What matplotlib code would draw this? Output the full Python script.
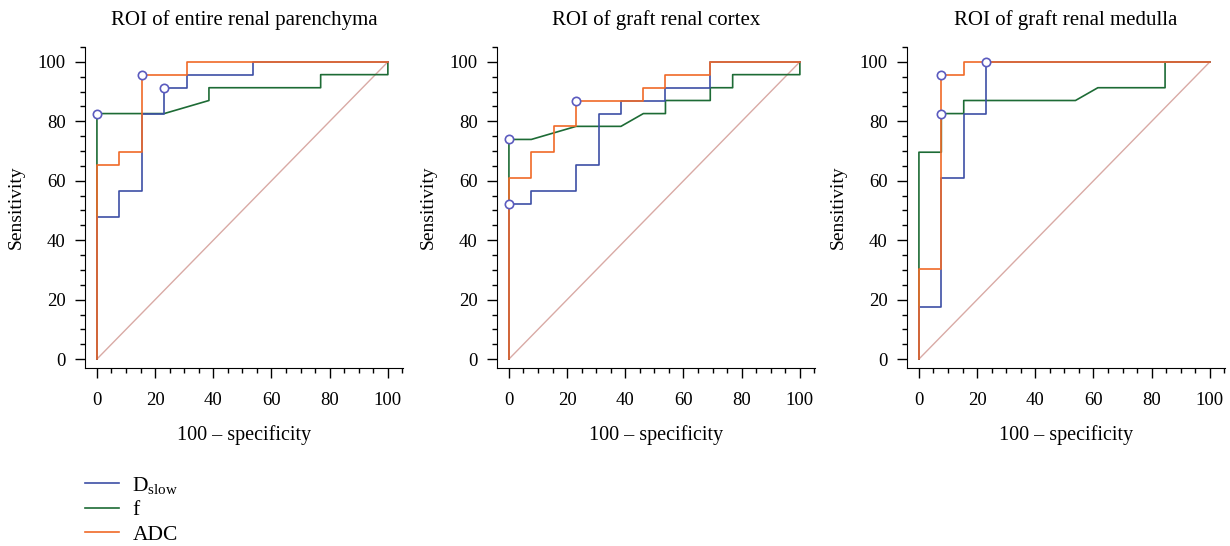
import matplotlib
matplotlib.use("Agg")
import matplotlib.pyplot as plt
from matplotlib.ticker import MultipleLocator
from matplotlib.lines import Line2D

plt.rcParams['font.family'] = ['Liberation Serif', 'DejaVu Serif']
plt.rcParams['mathtext.default'] = 'regular'

titles = ["ROI of entire renal parenchyma", "ROI of graft renal cortex", "ROI of graft renal medulla"]
series_names = ["D$_{slow}$", "f", "ADC"]

# Panel 1: entire renal parenchyma
p1_dslow_x = [0, 0, 7.7, 7.7, 15.4, 15.4, 23.1, 23.1, 30.8, 30.8, 53.8, 53.8, 100]
p1_dslow_y = [0, 47.8, 47.8, 56.5, 56.5, 82.6, 82.6, 91.3, 91.3, 95.7, 95.7, 100, 100]
p1_f_x = [0, 0, 23.1, 38.5, 38.5, 76.9, 76.9, 100, 100]
p1_f_y = [0, 82.6, 82.6, 87.0, 91.3, 91.3, 95.7, 95.7, 100]
p1_adc_x = [0, 0, 7.7, 7.7, 15.4, 15.4, 30.8, 30.8, 100]
p1_adc_y = [0, 65.2, 65.2, 69.6, 69.6, 95.7, 95.7, 100, 100]
p1_cut_x = [0, 15.4, 23.1]
p1_cut_y = [82.6, 95.7, 91.3]

# Panel 2: graft renal cortex
p2_dslow_x = [0, 0, 7.7, 7.7, 23.1, 23.1, 30.8, 30.8, 38.5, 38.5, 53.8, 53.8, 69.2, 69.2, 100]
p2_dslow_y = [0, 52.2, 52.2, 56.5, 56.5, 65.2, 65.2, 82.6, 82.6, 87.0, 87.0, 91.3, 91.3, 100, 100]
p2_f_x = [0, 0, 7.7, 23.1, 38.5, 46.2, 53.8, 53.8, 69.2, 69.2, 76.9, 76.9, 100, 100]
p2_f_y = [0, 73.9, 73.9, 78.3, 78.3, 82.6, 82.6, 87.0, 87.0, 91.3, 91.3, 95.7, 95.7, 100]
p2_adc_x = [0, 0, 7.7, 7.7, 15.4, 15.4, 23.1, 23.1, 46.2, 46.2, 53.8, 53.8, 69.2, 69.2, 100]
p2_adc_y = [0, 60.9, 60.9, 69.6, 69.6, 78.3, 78.3, 87.0, 87.0, 91.3, 91.3, 95.7, 95.7, 100, 100]
p2_cut_x = [0, 0, 23.1]
p2_cut_y = [73.9, 52.2, 87.0]

# Panel 3: graft renal medulla
p3_dslow_x = [0, 0, 7.7, 7.7, 15.4, 15.4, 23.1, 23.1, 100]
p3_dslow_y = [0, 17.4, 17.4, 60.9, 60.9, 82.6, 82.6, 100, 100]
p3_f_x = [0, 0, 7.7, 7.7, 15.4, 15.4, 53.8, 61.5, 84.6, 84.6, 100]
p3_f_y = [0, 69.6, 69.6, 82.6, 82.6, 87.0, 87.0, 91.3, 91.3, 100, 100]
p3_adc_x = [0, 0, 7.7, 7.7, 15.4, 15.4, 100]
p3_adc_y = [0, 30.4, 30.4, 95.7, 95.7, 100, 100]
p3_cut_x = [7.7, 7.7, 23.1]
p3_cut_y = [95.7, 82.6, 100]

panels = [
    (p1_dslow_x, p1_dslow_y, p1_f_x, p1_f_y, p1_adc_x, p1_adc_y, p1_cut_x, p1_cut_y),
    (p2_dslow_x, p2_dslow_y, p2_f_x, p2_f_y, p2_adc_x, p2_adc_y, p2_cut_x, p2_cut_y),
    (p3_dslow_x, p3_dslow_y, p3_f_x, p3_f_y, p3_adc_x, p3_adc_y, p3_cut_x, p3_cut_y),
]

c_dslow = '#3d4fa6'
c_f = '#1d6b35'
c_adc = '#f06a28'
c_diag = '#d9aaa5'
c_marker = '#5b5bbf'

fig = plt.figure(figsize=(12.3, 5.46), dpi=100)
lefts = [85 / 1230, 497 / 1230, 907 / 1230]
bottom = 1 - 368 / 546
height = (368 - 47) / 546
width = 318 / 1230

for i, (dx, dy, fx, fy, ax_, ay, cx, cy) in enumerate(panels):
    ax = fig.add_axes([lefts[i], bottom, width, height])
    ax.plot([0, 100], [0, 100], color=c_diag, lw=1.0, zorder=1)
    ax.plot(fx, fy, color=c_f, lw=1.2, zorder=2)
    ax.plot(dx, dy, color=c_dslow, lw=1.2, zorder=3)
    ax.plot(ax_, ay, color=c_adc, lw=1.2, zorder=4)
    ax.plot(cx, cy, linestyle='none', marker='o', ms=6, mfc='white', mec=c_marker, mew=1.2, zorder=5,
            clip_on=False)
    ax.set_xlim(-4.1, 105.2)
    ax.set_ylim(-3.0, 105.0)
    ax.spines['top'].set_visible(False)
    ax.spines['right'].set_visible(False)
    ax.xaxis.set_major_locator(MultipleLocator(20))
    ax.xaxis.set_minor_locator(MultipleLocator(5))
    ax.yaxis.set_major_locator(MultipleLocator(20))
    ax.yaxis.set_minor_locator(MultipleLocator(5))
    ax.tick_params(which='major', length=7, width=1, labelsize=13.5, direction='out', pad=7)
    ax.tick_params(axis='x', which='major', pad=10)
    ax.tick_params(which='minor', length=3.5, width=1, direction='out')
    ax.set_title(titles[i], fontsize=15, pad=16)
    ax.set_xlabel("100 \u2013 specificity", fontsize=14.5, labelpad=12)
    ax.set_ylabel("Sensitivity", fontsize=14, labelpad=9)

handles = [Line2D([], [], color=c_dslow, lw=1.2),
           Line2D([], [], color=c_f, lw=1.2),
           Line2D([], [], color=c_adc, lw=1.2)]
fig.legend(handles, series_names, loc='upper left', bbox_to_anchor=(85 / 1230, 1 - 475 / 546),
           frameon=False, fontsize=15.5, handlelength=1.6, handletextpad=0.6, labelspacing=0.2,
           borderaxespad=0, borderpad=0)

fig.savefig("out.png", dpi=100)
